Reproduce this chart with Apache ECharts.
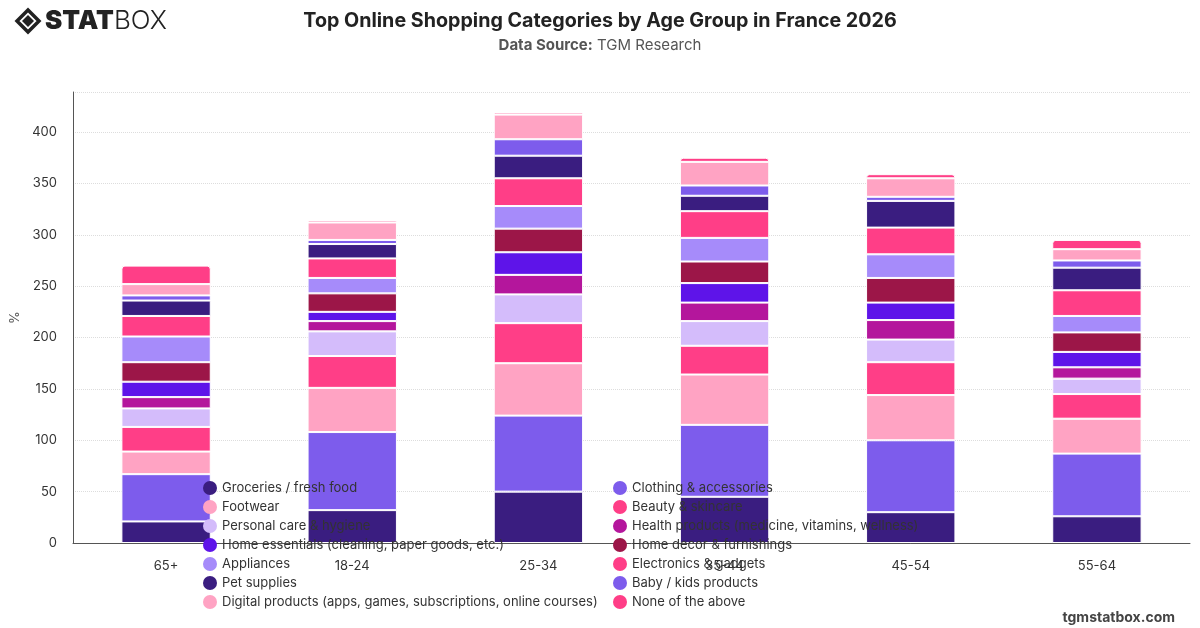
<!DOCTYPE html>
<html>
<head>
<meta charset="utf-8">
<script src="https://cdn.jsdelivr.net/npm/echarts@6/dist/echarts.min.js"></script>
<style>
  html, body { margin: 0; padding: 0; background: #fff; }
  #chart { width: 1200px; height: 628px; }
</style>
</head>
<body>
<div id="chart"></div>
<script>
var ageGroups = ['65+', '18-24', '25-34', '35-44', '45-54', '55-64']
var seriesNames = [
  'Groceries / fresh food',
  'Clothing & accessories',
  'Footwear',
  'Beauty & skincare',
  'Personal care & hygiene',
  'Health products (medicine, vitamins, wellness)',
  'Home essentials (cleaning, paper goods, etc.)',
  'Home decor & furnishings',
  'Appliances',
  'Electronics & gadgets',
  'Pet supplies',
  'Baby / kids products',
  'Digital products (apps, games, subscriptions, online courses)',
  'None of the above'
]
var colors = ['#3a1d80', '#7d5cec', '#ffa3c3', '#ff3e87', '#d4bcfb', '#b4169c', '#5e14e9',
  '#9c1648', '#a68bfa', '#ff3e87', '#3a1d80', '#7d5cec', '#ffa3c3', '#ff3e87']

// values per category, one entry per age group (65+, 18-24, 25-34, 35-44, 45-54, 55-64)
var groceries = [21, 32, 50, 45, 30, 26]
var clothing = [46, 76, 74, 70, 70, 61]
var footwear = [22, 43, 51, 49, 44, 34]
var beauty = [24, 31, 39, 28, 32, 24]
var personalCare = [18, 24, 28, 24, 22, 15]
var health = [11, 10, 19, 18, 19, 11]
var homeEssentials = [15, 9, 22, 19, 17, 15]
var homeDecor = [19, 18, 23, 21, 24, 19]
var appliances = [25, 15, 22, 23, 23, 16]
var electronics = [20, 19, 27, 26, 26, 25]
var petSupplies = [15, 14, 22, 15, 26, 22]
var babyKids = [5, 4, 16, 10, 4, 7]
var digital = [11, 17, 24, 23, 18, 11]
var noneAbove = [18, 2, 2, 4, 4, 9]

var values = [groceries, clothing, footwear, beauty, personalCare, health, homeEssentials,
  homeDecor, appliances, electronics, petSupplies, babyKids, digital, noneAbove]

var yTicks = [0, 50, 100, 150, 200, 250, 300, 350, 400]

var font = 'Inter, "Liberation Sans", sans-serif'

var series = []
for (var i = 0; i < seriesNames.length; i++) {
  var last = i === seriesNames.length - 1
  series.push({
    name: seriesNames[i],
    type: 'bar',
    stack: 'total',
    barWidth: '48%',
    data: values[i],
    itemStyle: {
      color: colors[i],
      borderColor: '#fff',
      borderWidth: 1,
      borderRadius: last ? [3, 3, 0, 0] : 0
    }
  })
}

// legend is split in two columns, filled row by row
var leftCol = []
var rightCol = []
for (var i = 0; i < seriesNames.length; i++) {
  if (i % 2 === 0) leftCol.push(seriesNames[i])
  else rightCol.push(seriesNames[i])
}

function legendFor(list, left) {
  return {
    orient: 'vertical',
    left: left,
    top: 476,
    height: 150,
    icon: 'circle',
    itemWidth: 14,
    itemHeight: 14,
    itemGap: 5,
    data: list,
    itemStyle: { borderWidth: 0 },
    textStyle: { fontFamily: font, fontSize: 13, color: '#333' },
    selectedMode: false
  }
}

var chart = echarts.init(document.getElementById('chart'), null, { renderer: 'canvas' })

var option = {
  animation: false,
  textStyle: { fontFamily: font },
  title: [{
    text: 'Top Online Shopping Categories by Age Group in France 2026',
    left: 'center',
    top: 6,
    textStyle: { fontFamily: font, fontSize: 19.7, fontWeight: 'bold', color: '#222' }
  }, {
    text: '{b|Data Source:}{n| TGM Research}',
    left: 'center',
    top: 33,
    textStyle: {
      fontWeight: 'normal',
      rich: {
        b: { fontFamily: font, fontSize: 15, fontWeight: 'bold', color: '#555' },
        n: { fontFamily: font, fontSize: 15, fontWeight: 'normal', color: '#555' }
      }
    }
  }, {
    text: 'tgmstatbox.com',
    right: 20,
    top: 606,
    textStyle: { fontFamily: font, fontSize: 14, fontWeight: 'bold', color: '#444' }
  }],
  graphic: [{
    type: 'polygon',
    shape: { points: [[28, 10], [39, 21], [28, 32], [17, 21]] },
    style: { fill: 'none', stroke: '#222', lineWidth: 3.5 }
  }, {
    type: 'polygon',
    shape: { points: [[28, 15], [34, 21], [28, 27], [22, 21]] },
    style: { fill: '#222' }
  }, {
    type: 'text',
    left: 45,
    top: 8,
    style: {
      text: '{s|STAT}{b|BOX}',
      rich: {
        s: { fontFamily: font, fontSize: 26, fontWeight: 900, fill: '#222' },
        b: { fontFamily: font, fontSize: 26, fontWeight: 300, fill: '#222' }
      }
    }
  }],
  legend: [legendFor(leftCol, 198), legendFor(rightCol, 608)],
  grid: {
    left: 73,
    right: 10,
    top: 92,
    bottom: 85,
    containLabel: false
  },
  xAxis: {
    type: 'category',
    data: ageGroups,
    axisLine: { lineStyle: { color: '#555' } },
    axisTick: { show: false },
    axisLabel: { fontFamily: font, fontSize: 13, color: '#333', margin: 17 }
  },
  yAxis: {
    type: 'value',
    name: '%',
    nameLocation: 'middle',
    nameGap: 50,
    nameTextStyle: { fontFamily: font, fontSize: 13, color: '#555' },
    min: 0,
    max: 439,
    interval: 50,
    axisLine: { show: true, lineStyle: { color: '#555' } },
    axisTick: { show: false },
    axisLabel: {
      fontFamily: font,
      fontSize: 13,
      color: '#333',
      margin: 16,
      showMaxLabel: false,
      formatter: function (v) { return yTicks.indexOf(v) >= 0 ? v : '' }
    },
    splitLine: { lineStyle: { color: '#ddd', type: 'dotted' } }
  },
  series: series
}

chart.setOption(option)
</script>
</body>
</html>
